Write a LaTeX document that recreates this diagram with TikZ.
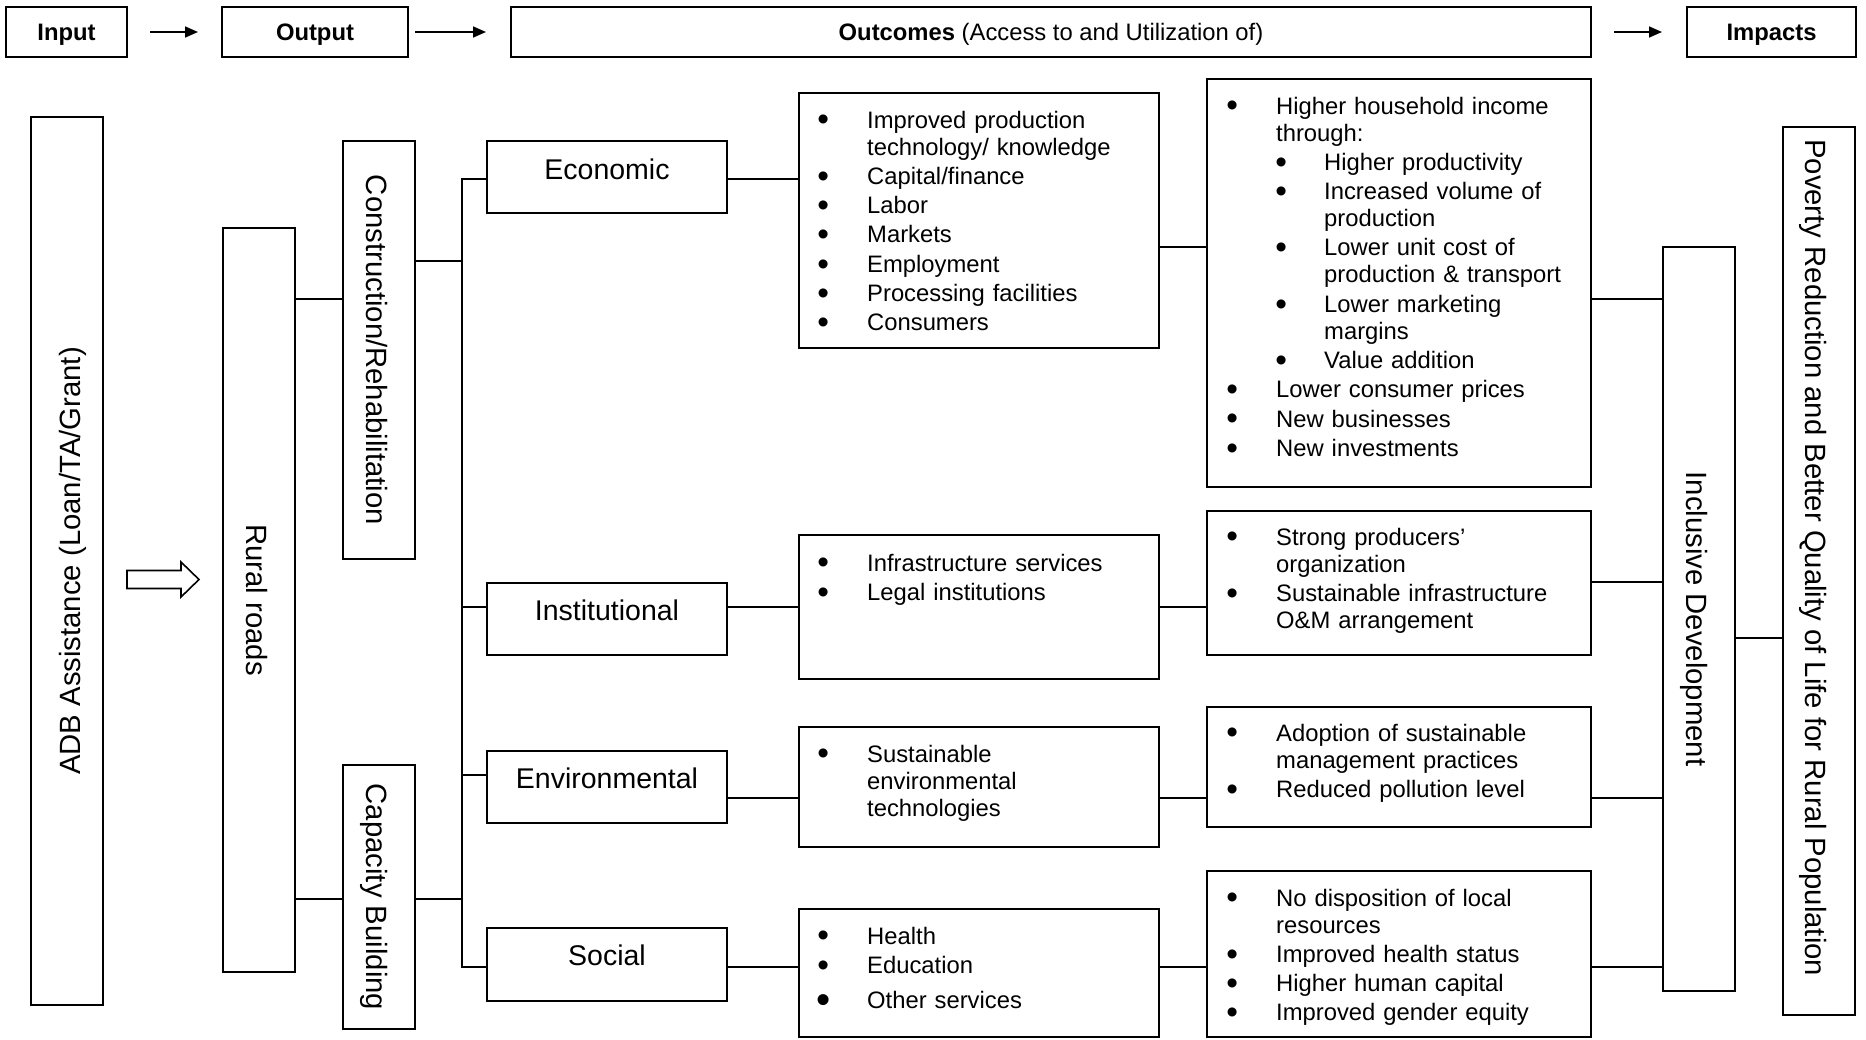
\documentclass[tikz,border=0pt]{standalone}
\usepackage{fontspec}
\setmainfont{Liberation Sans}
\usetikzlibrary{fit,calc,arrows.meta}
\newcommand\bulglyph{\raisebox{-2.8pt}{\scalebox{1.4}{\textbullet}}}
\newcommand\bul{\llap{\makebox[0pt][c]{\bulglyph}\hspace{44pt}}}
\newcommand\itm[1]{\par\leftskip=0pt\noindent\bul #1}
\newcommand\subi[1]{\par\leftskip=48pt\noindent\llap{\makebox[0pt][c]{\bulglyph}\hspace{43pt}}#1}
\tikzset{
  boxst/.style={draw, line width=2.2pt, inner sep=0pt, outer sep=0pt},
  conn/.style={line width=1.6pt},
  harrow/.style={line width=1.6pt, -{Triangle[length=13pt,width=11pt]}},
  hdr/.style={font=\fontsize{23.8}{28}\selectfont, inner sep=0pt, anchor=base},
  cat/.style={font=\fontsize{28.5}{32}\selectfont, inner sep=0pt, anchor=base},
  vert/.style={font=\fontsize{29.3}{33}\selectfont, inner sep=0pt, anchor=base},
  lst/.style={font=\fontsize{23.8}{27}\selectfont, inner sep=0pt, anchor=base west, text width=300pt, align=left},
}
\begin{document}
\begin{tikzpicture}[x=1pt,y=-1pt]
\useasboundingbox[fill=white] (0,0) rectangle (1866,1039);

% header row
\node[boxst, fit={(6,7)(127,57)}] (input) {};
\node[boxst, fit={(222,7)(408,57)}] (output) {};
\node[boxst, fit={(511,7)(1591,57)}] (outcomes) {};
\node[boxst, fit={(1687,7)(1856,57)}] (impacts) {};
\node[hdr] (inputT) at (input.center |- 0,40) {\textbf{Input}};
\node[hdr] (outputT) at (output.center |- 0,40) {\textbf{Output}};
\node[hdr] (outcomesT) at (outcomes.center |- 0,40) {\textbf{Outcomes} (Access to and Utilization of)};
\node[hdr] (impactsT) at (impacts.center |- 0,40) {\textbf{Impacts}};
\draw[harrow] ([xshift=23pt]input.east) -- ([xshift=-24pt]output.west);
\draw[harrow] ([xshift=7pt]output.east) -- ([xshift=-25pt]outcomes.west);
\draw[harrow] ([xshift=23pt]outcomes.east) -- ([xshift=-25pt]impacts.west);

% left columns
\node[boxst, fit={(31,117)(103,1005)}] (adb) {};
\node[boxst, fit={(223,228)(295,972)}] (rural) {};
\node[boxst, fit={(343,141)(415,559)}] (constr) {};
\node[boxst, fit={(343,765)(415,1029)}] (capac) {};
\node[vert, rotate=90] (adbT) at (80,561) {ADB Assistance (Loan/TA/Grant)};
\node[vert, rotate=-90] (ruralT) at (246,600) {Rural roads};
\node[vert, rotate=-90] (constrT) at (366,350) {Construction/Rehabilitation};
\node[vert, rotate=-90] (capacT) at (366,897) {Capacity Building};

% category boxes
\node[boxst, fit={(487,141)(727,213)}] (econ) {};
\node[boxst, fit={(487,583)(727,655)}] (inst) {};
\node[boxst, fit={(487,751)(727,823)}] (env) {};
\node[boxst, fit={(487,928)(727,1001)}] (soc) {};
\node[cat] (econT) at (607,179) {Economic};
\node[cat] (instT) at (607,620) {Institutional};
\node[cat] (envT) at (607,788) {Environmental};
\node[cat] (socT) at (607,965) {Social};

% outcome lists
\node[boxst, fit={(799,93)(1159,348)}] (econL) {};
\node[boxst, fit={(799,535)(1159,679)}] (instL) {};
\node[boxst, fit={(799,727)(1159,847)}] (envL) {};
\node[boxst, fit={(799,909)(1159,1037)}] (socL) {};
\node[lst] (econLT) at (867,128) {\parskip=2.3pt\noindent\bul Improved production\newline technology/ knowledge\itm{Capital/finance}\itm{Labor}\itm{Markets}\itm{Employment}\itm{Processing facilities}\itm{Consumers}};
\node[lst] (instLT) at (867,571) {\parskip=2.3pt\noindent\bul Infrastructure services\itm{Legal institutions}};
\node[lst] (envLT) at (867,762) {\parskip=2.3pt\noindent\bul Sustainable\newline environmental\newline technologies};
\node[lst] (socLT) at (867,944) {\parskip=2.3pt\noindent\bul Health\itm{Education}\par\vspace{6pt}\noindent\llap{\makebox[0pt][c]{\raisebox{-4.5pt}{\scalebox{1.7}{\textbullet}}}\hspace{44pt}}Other services};

% impact lists
\node[boxst, fit={(1207,79)(1591,487)}] (econI) {};
\node[boxst, fit={(1207,511)(1591,655)}] (instI) {};
\node[boxst, fit={(1207,707)(1591,827)}] (envI) {};
\node[boxst, fit={(1207,871)(1591,1037)}] (socI) {};
\node[lst] (econIT) at (1276,114) {\parskip=2.3pt\noindent\bul Higher household income\newline through:\subi{Higher productivity}\subi{Increased volume of\newline production}\subi{Lower unit cost of\newline production \& transport}\subi{Lower marketing\newline margins}\subi{Value addition}\itm{Lower consumer prices}\itm{New businesses}\itm{New investments}};
\node[lst] (instIT) at (1276,545) {\parskip=2.3pt\noindent\bul Strong producers’\newline organization\itm{Sustainable infrastructure\newline O\&M arrangement}};
\node[lst] (envIT) at (1276,741) {\parskip=2.3pt\noindent\bul Adoption of sustainable\newline management practices\itm{Reduced pollution level}};
\node[lst] (socIT) at (1276,906) {\parskip=2.3pt\noindent\bul No disposition of local\newline resources\itm{Improved health status}\itm{Higher human capital}\itm{Improved gender equity}};

% right columns
\node[boxst, fit={(1663,247)(1735,991)}] (incl) {};
\node[boxst, fit={(1783,127)(1855,1015)}] (pov) {};
\node[vert, rotate=-90] (inclT) at (1686,619) {Inclusive Development};
\node[vert, rotate=-90, anchor=base west] (povT) at (1805,139) {Poverty Reduction and Better Quality of Life for Rural Population};

% block arrow ADB -> Rural roads
\draw[line width=1.6pt, fill=white] let \p1=(adb.east |- 0,579.5), \p2=(rural.west |- 0,579.5) in
  (\x1+24pt,\y1+9pt) -- (\x2-42pt,\y1+9pt) -- (\x2-42pt,\y1+17.5pt) -- (\x2-24pt,\y1)
  -- (\x2-42pt,\y1-17.5pt) -- (\x2-42pt,\y1-9pt) -- (\x1+24pt,\y1-9pt) -- cycle;

% connectors
\coordinate (busT) at (462,179);
\coordinate (busB) at (462,967);
\draw[conn] (rural.east |- 0,299) -- (constr.west |- 0,299);
\draw[conn] (rural.east |- 0,899) -- (capac.west |- 0,899);
\draw[conn] (constr.east |- 0,261) -- (busT |- 0,261);
\draw[conn] (capac.east |- 0,899) -- (busT |- 0,899);
\draw[conn] (econ.west |- busT) -- (busT) -- (busB) -- (soc.west |- busB);
\draw[conn] (busT |- 0,607) -- (inst.west |- 0,607);
\draw[conn] (busT |- 0,775) -- (env.west |- 0,775);

\draw[conn] (econ.east |- 0,179) -- (econL.west |- 0,179);
\draw[conn] (inst.east |- 0,607) -- (instL.west |- 0,607);
\draw[conn] (env.east |- 0,798) -- (envL.west |- 0,798);
\draw[conn] (soc.east |- 0,967) -- (socL.west |- 0,967);

\draw[conn] (econL.east |- 0,247) -- (econI.west |- 0,247);
\draw[conn] (instL.east |- 0,607) -- (instI.west |- 0,607);
\draw[conn] (envL.east |- 0,798) -- (envI.west |- 0,798);
\draw[conn] (socL.east |- 0,967) -- (socI.west |- 0,967);

\draw[conn] (econI.east |- 0,299) -- (incl.west |- 0,299);
\draw[conn] (instI.east |- 0,582) -- (incl.west |- 0,582);
\draw[conn] (envI.east |- 0,798) -- (incl.west |- 0,798);
\draw[conn] (socI.east |- 0,967) -- (incl.west |- 0,967);

\draw[conn] (incl.east |- 0,638) -- (pov.west |- 0,638);
\end{tikzpicture}
\end{document}
